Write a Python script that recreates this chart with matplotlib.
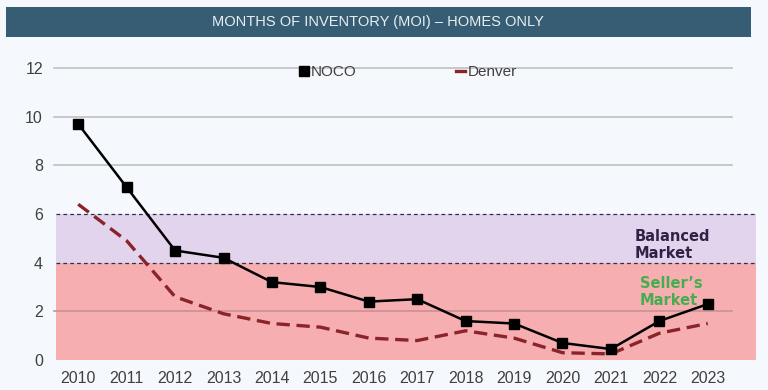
import numpy as np
import matplotlib.pyplot as plt
from matplotlib.patches import Rectangle
from matplotlib.lines import Line2D

years = ["2010", "2011", "2012", "2013", "2014", "2015", "2016",
         "2017", "2018", "2019", "2020", "2021", "2022", "2023"]
noco = [9.7, 7.1, 4.5, 4.2, 3.2, 3.0, 2.4, 2.5, 1.6, 1.5, 0.7, 0.45, 1.6, 2.3]
denver = [6.4, 4.9, 2.6, 1.9, 1.5, 1.35, 0.9, 0.8, 1.2, 0.9, 0.3, 0.25, 1.1, 1.5]

bg = "#f5f8fc"
txt = "#404040"

fig = plt.figure(figsize=(7.68, 3.9), dpi=100, facecolor=bg)
plt.rcParams['font.family'] = ['Liberation Sans', 'DejaVu Sans']

# title bar
fig.patches.append(Rectangle((6/768, 1-37/390), 745/768, 30/390, transform=fig.transFigure,
                             facecolor="#365d73", edgecolor="none"))
fig.text(378/768, 1-22/390, "MONTHS OF INVENTORY (MOI) \u2013 HOMES ONLY", color="#e8eef2",
         fontsize=10.5, ha="center", va="center")

ax = fig.add_axes([54/768, 1-360/390, 678/768, 292/390])
ax.set_facecolor(bg)
x = np.arange(len(years))
ax.set_xlim(-0.5, len(years)-0.5)
ax.set_ylim(0, 12)

# market bands
tr = ax.get_yaxis_transform()
x0, x1 = 2/678, 702/678
ax.fill_between([x0, x1], 0, 4, color="#f7aeb0", transform=tr, clip_on=False, zorder=0, lw=0)
ax.fill_between([x0, x1], 4, 6, color="#e3d4ee", transform=tr, clip_on=False, zorder=0, lw=0)
for yv in (4, 6):
    ax.plot([x0, x1], [yv, yv], transform=tr, clip_on=False, color="#2f2f48",
            lw=0.9, dashes=(3, 2.5), zorder=1)

for yv in (2, 8, 10, 12):
    c = "#c99094" if yv == 2 else "#c0c0c0"
    ax.plot([0, 1], [yv, yv], transform=tr, color=c, lw=1.2, zorder=1, clip_on=False)

ax.plot(x, noco, color="black", lw=1.8, marker="s", ms=7, zorder=4)
ax.plot(x, denver, color="#8b2429", lw=2.4, dashes=(4, 2), zorder=3)

ax.text(11.49, 4.72, "Balanced\nMarket", color="#2e2347", fontsize=10.5, fontweight="bold",
        family="DejaVu Sans", ha="left", va="center", linespacing=1.2, zorder=5)
ax.text(11.6, 2.8, "Seller\u2019s\nMarket", color="#45ad4f", fontsize=10.5, fontweight="bold",
        family="DejaVu Sans", ha="left", va="center", linespacing=1.2, zorder=5)

handles = [Line2D([], [], color="black", marker="s", ms=7, lw=0),
           Line2D([], [], color="#8b2429", lw=2.4)]
ax.legend(handles, ["NOCO", "Denver"], ncol=2, loc="center", bbox_to_anchor=(0.522, 0.986),
          frameon=False, handlelength=0.6, handletextpad=0.15, columnspacing=6.5,
          fontsize=11, labelcolor=txt, borderaxespad=0)

ax.set_xticks(x)
ax.set_xticklabels(years)
ax.set_yticks([0, 2, 4, 6, 8, 10, 12])
ax.tick_params(length=0, labelsize=11.5, colors=txt, pad=8)
for s in ax.spines.values():
    s.set_visible(False)

fig.savefig("out.png", dpi=100, facecolor=bg)
